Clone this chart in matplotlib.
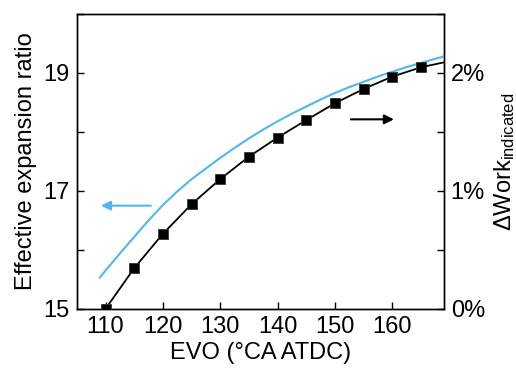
import matplotlib
matplotlib.use("Agg")
import matplotlib.pyplot as plt
from matplotlib.ticker import FixedLocator, MultipleLocator, FuncFormatter

plt.rcParams['font.family'] = ['Liberation Sans', 'DejaVu Sans']
plt.rcParams['mathtext.fontset'] = 'custom'
plt.rcParams['mathtext.rm'] = 'Liberation Sans'
plt.rcParams['mathtext.it'] = 'Liberation Sans'

# Effective expansion ratio (left axis, blue curve)
evo_ratio = [109, 110, 112.5, 115, 117.5, 120, 122.5, 125, 127.5, 130, 132.5, 135,
             137.5, 140, 142.5, 145, 147.5, 150, 152.5, 155, 157.5, 160, 162.5,
             165, 167.5, 169]
ratio = [15.53, 15.65, 15.94, 16.22, 16.50, 16.76, 16.99, 17.20, 17.38, 17.56, 17.73,
         17.89, 18.04, 18.18, 18.31, 18.43, 18.55, 18.66, 18.76, 18.85, 18.94, 19.02,
         19.10, 19.17, 19.24, 19.28]

# Delta indicated work (right axis, %, black squares)
evo_work = [110, 115, 120, 125, 130, 135, 140, 145, 150, 155, 160, 165]
work = [0.0, 0.345, 0.636, 0.887, 1.10, 1.29, 1.452, 1.60, 1.743, 1.864, 1.969, 2.048]
evo_work_end = [165, 169]
work_end = [2.048, 2.09]

xticks = [110, 120, 130, 140, 150, 160]
left_major = [15, 17, 19]
left_minor = [16, 18, 20]

blue = '#4db8f0'
fs = 17

fig = plt.figure(figsize=(5.16, 3.69), dpi=100)
ax = fig.add_axes([0.149, 0.163, 0.711, 0.799])
ax2 = ax.twinx()

ax.plot(evo_ratio, ratio, color=blue, lw=1.5, zorder=3)
ax2.plot(evo_work, work, color='black', lw=1.3, marker='s', ms=7,
         mfc='black', mec='#333333', mew=0.6, zorder=3)
ax2.plot(evo_work_end, work_end, color='black', lw=1.3, zorder=3)

ax.set_xlim(105, 169)
ax.set_ylim(15, 20)
ax2.set_ylim(0, 2.5)

ax.set_xticks(xticks)
ax.yaxis.set_major_locator(FixedLocator(left_major))
ax.yaxis.set_minor_locator(FixedLocator(left_minor))
ax2.yaxis.set_major_locator(MultipleLocator(1))
ax2.yaxis.set_minor_locator(MultipleLocator(0.5))
ax2.yaxis.set_major_formatter(FuncFormatter(lambda v, p: f"{v:.0f}%"))

for a in (ax, ax2):
    a.tick_params(which='both', direction='in', labelsize=fs, width=1.0)
    a.tick_params(which='major', length=5, pad=5)
    a.tick_params(which='minor', length=5)
    for s in a.spines.values():
        s.set_linewidth(1.0)

ax.set_xlabel('EVO (°CA ATDC)', fontsize=fs, labelpad=3)
ax.set_ylabel('Effective expansion ratio', fontsize=fs, labelpad=5)
ax2.set_ylabel(r'$\Delta$Work$_{\mathrm{indicated}}$', fontsize=fs, labelpad=5)

ax.annotate('', xy=(109.2, 16.75), xytext=(117.9, 16.75),
            arrowprops=dict(arrowstyle='-|>', color=blue, lw=1.5,
                            mutation_scale=14, shrinkA=0, shrinkB=0))
ax2.annotate('', xy=(160.3, 1.607), xytext=(152.8, 1.607),
             arrowprops=dict(arrowstyle='-|>', color='black', lw=1.5,
                             mutation_scale=14, shrinkA=0, shrinkB=0))

fig.savefig('out.png', dpi=100)
